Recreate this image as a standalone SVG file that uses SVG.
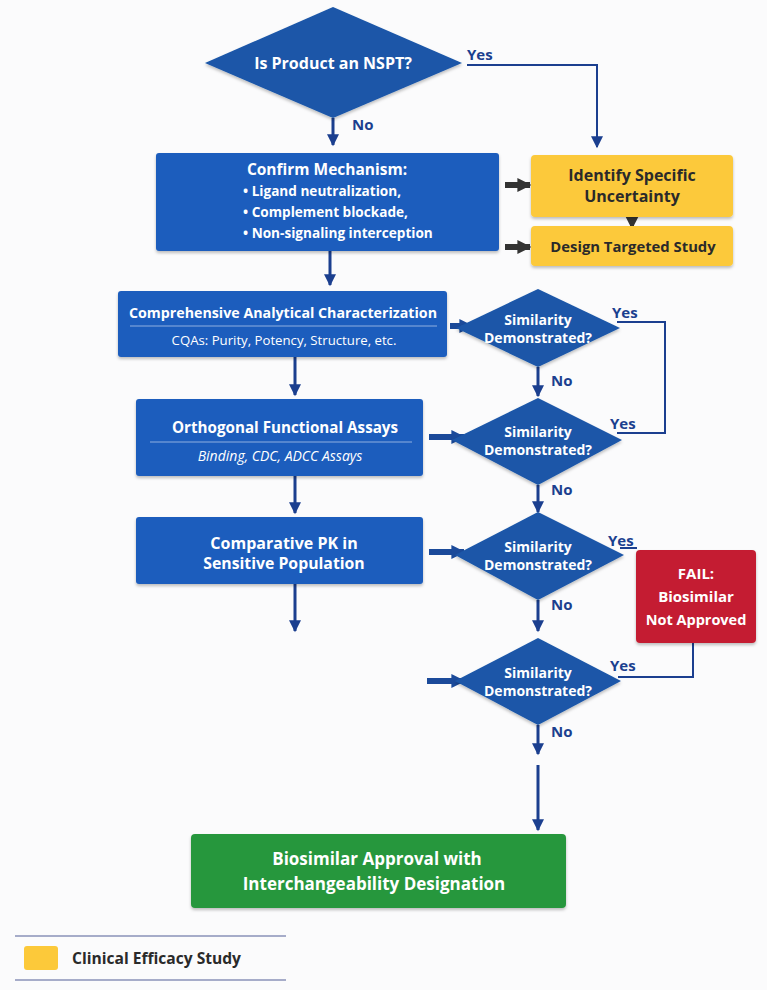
<svg xmlns="http://www.w3.org/2000/svg" width="767" height="990" viewBox="0 0 767 990">
<defs>
<style>
.bx{fill:#1f5dbd;}
.dm{fill:#1a56a8;}
.t{font-family:"Open Sans","Noto Sans",sans-serif;font-weight:700;fill:#fff;text-anchor:middle;}
.ty{font-family:"Open Sans","Noto Sans",sans-serif;font-weight:700;fill:#2a2a2a;text-anchor:middle;}
.s{font-family:"Open Sans","Noto Sans",sans-serif;font-weight:400;fill:#fff;text-anchor:middle;}
.lb{font-family:"Open Sans","Noto Sans",sans-serif;font-weight:700;fill:#1b3f8f;font-size:15px;}
.ln{fill:none;stroke:#1b3f8f;stroke-width:2;}
.lt{fill:none;stroke:#1b3f8f;stroke-width:3;}
.th{fill:none;stroke:#1b4a9a;stroke-width:6;}
.tg{fill:none;stroke:#333;stroke-width:6;}
</style>
<marker id="ah" viewBox="0 0 10 10" refX="9" refY="5" markerWidth="14" markerHeight="12" markerUnits="userSpaceOnUse" orient="auto"><path d="M0,0L10,5L0,10z" fill="#1b3f8f"/></marker>
<marker id="ahb" viewBox="0 0 10 10" refX="9" refY="5" markerWidth="14" markerHeight="18" markerUnits="userSpaceOnUse" orient="auto"><path d="M0,0L10,5L0,10z" fill="#1b4a9a"/></marker>
<marker id="ahg" viewBox="0 0 10 10" refX="9" refY="5" markerWidth="14" markerHeight="18" markerUnits="userSpaceOnUse" orient="auto"><path d="M0,0L10,5L0,10z" fill="#333"/></marker>
<filter id="sh" x="-5%" y="-10%" width="110%" height="125%"><feDropShadow dx="0" dy="2" stdDeviation="1.5" flood-color="#000" flood-opacity="0.25"/></filter>
</defs>
<rect width="767" height="990" fill="#fbfbfc"/>

<g id="connectors">
<path class="lt" d="M333,118 V145" marker-end="url(#ah)"/>
<path class="ln" d="M467,65 H597 V147" marker-end="url(#ah)"/>
<path class="tg" d="M505,185 H530" marker-end="url(#ahg)"/>
<path class="tg" d="M505,247 H530" marker-end="url(#ahg)"/>
<path class="tg" d="M632,213 V228" marker-end="url(#ahg)" style="stroke-width:4"/>
<path class="lt" d="M330,251 V285" marker-end="url(#ah)"/>
<path class="th" d="M450,326 H472" marker-end="url(#ahb)"/>
<path class="ln" d="M617,322 H665 V433 H617"/>
<path class="lt" d="M538,367 V396" marker-end="url(#ah)"/>
<path class="lt" d="M295,357 V395" marker-end="url(#ah)"/>
<path class="th" d="M429,437 H464" marker-end="url(#ahb)"/>
<path class="lt" d="M538,485 V512" marker-end="url(#ah)"/>
<path class="lt" d="M295,476 V513" marker-end="url(#ah)"/>
<path class="th" d="M429,552 H464" marker-end="url(#ahb)"/>
<path class="ln" d="M620,548 H637"/>
<path class="lt" d="M538,600 V631" marker-end="url(#ah)"/>
<path class="lt" d="M295,584 V631" marker-end="url(#ah)"/>
<path class="th" d="M427,681 H464" marker-end="url(#ahb)"/>
<path class="ln" d="M618,677 H693 V643"/>
<path class="lt" d="M538,725 V754" marker-end="url(#ah)"/>
<path class="lt" d="M538,765 V830" marker-end="url(#ah)"/>
<text class="lb" x="352" y="130">No</text>
<text class="lb" x="467" y="60">Yes</text>
<text class="lb" x="612" y="318">Yes</text>
<text class="lb" x="551" y="386">No</text>
<text class="lb" x="610" y="429">Yes</text>
<text class="lb" x="551" y="495">No</text>
<text class="lb" x="608" y="546">Yes</text>
<text class="lb" x="551" y="610">No</text>
<text class="lb" x="610" y="671">Yes</text>
<text class="lb" x="551" y="737">No</text>
</g>

<g id="q1">
<path class="dm" d="M333,7 L462,63 L333,118 L205,63 Z" filter="url(#sh)"/>
<text class="t" x="333" y="69" font-size="16">Is Product an NSPT?</text>
</g>

<g id="confirm">
<rect class="bx" x="156" y="153" width="343" height="98" rx="3" filter="url(#sh)"/>
<text class="t" x="327" y="175" font-size="15.5">Confirm Mechanism:</text>
<text class="t" x="243" y="196" font-size="13.6" style="text-anchor:start">• Ligand neutralization,</text>
<text class="t" x="243" y="217" font-size="13.6" style="text-anchor:start">• Complement blockade,</text>
<text class="t" x="243" y="238" font-size="13.6" style="text-anchor:start">• Non-signaling interception</text>
</g>

<g id="identify">
<rect x="531" y="155" width="202" height="62" rx="4" fill="#fcc93a" filter="url(#sh)"/>
<text class="ty" x="632" y="181" font-size="16">Identify Specific</text>
<text class="ty" x="632" y="202" font-size="16">Uncertainty</text>
</g>

<g id="design">
<rect x="531" y="226" width="202" height="40" rx="4" fill="#fcc93a" filter="url(#sh)"/>
<text class="ty" x="633" y="252" font-size="14.8">Design Targeted Study</text>
</g>

<g id="analytical">
<rect class="bx" x="118" y="291" width="329" height="66" rx="3" filter="url(#sh)"/>
<text class="t" x="283" y="318" font-size="14.5" textLength="308" lengthAdjust="spacingAndGlyphs">Comprehensive Analytical Characterization</text>
<line x1="130" y1="326" x2="437" y2="326" stroke="#8fb0e0" stroke-width="1"/>
<text class="s" x="284" y="345" font-size="13.2">CQAs: Purity, Potency, Structure, etc.</text>
</g>

<g id="q2">
<path class="dm" d="M538,289 L620,328 L538,367 L456,328 Z" filter="url(#sh)"/>
<text class="t" x="538" y="325" font-size="14">Similarity</text>
<text class="t" x="538" y="343" font-size="14">Demonstrated?</text>
</g>

<g id="orthogonal">
<rect class="bx" x="136" y="399" width="287" height="77" rx="3" filter="url(#sh)"/>
<text class="t" x="285" y="433" font-size="15.2">Orthogonal Functional Assays</text>
<line x1="150" y1="442" x2="412" y2="442" stroke="#8fb0e0" stroke-width="1"/>
<text class="s" x="280" y="461" font-size="14" font-style="italic">Binding, CDC, ADCC Assays</text>
</g>

<g id="q3">
<path class="dm" d="M538,398 L622,440 L538,485 L452,440 Z" filter="url(#sh)"/>
<text class="t" x="538" y="437" font-size="14">Similarity</text>
<text class="t" x="538" y="455" font-size="14">Demonstrated?</text>
</g>

<g id="pk">
<rect class="bx" x="136" y="517" width="287" height="67" rx="3" filter="url(#sh)"/>
<text class="t" x="284" y="549" font-size="16">Comparative PK in</text>
<text class="t" x="284" y="569" font-size="15.8">Sensitive Population</text>
</g>

<g id="q4">
<path class="dm" d="M538,512 L624,555 L538,600 L455,555 Z" filter="url(#sh)"/>
<text class="t" x="538" y="552" font-size="14">Similarity</text>
<text class="t" x="538" y="570" font-size="14">Demonstrated?</text>
</g>

<g id="fail">
<rect x="636" y="550" width="120" height="93" rx="4" fill="#c41f30" filter="url(#sh)"/>
<text class="t" x="696" y="579" font-size="15">FAIL:</text>
<text class="t" x="696" y="602" font-size="15">Biosimilar</text>
<text class="t" x="696" y="625" font-size="14.5">Not Approved</text>
</g>

<g id="q5">
<path class="dm" d="M538,638 L621,681 L538,725 L455,681 Z" filter="url(#sh)"/>
<text class="t" x="538" y="678" font-size="14">Similarity</text>
<text class="t" x="538" y="696" font-size="14">Demonstrated?</text>
</g>

<g id="approval">
<rect x="191" y="834" width="375" height="74" rx="4" fill="#28973c" filter="url(#sh)"/>
<text class="t" x="377" y="865" font-size="17">Biosimilar Approval with</text>
<text class="t" x="374" y="890" font-size="17">Interchangeability Designation</text>
</g>

<g id="legend">
<line x1="15" y1="936" x2="286" y2="936" stroke="#8a92b8" stroke-width="1.5"/>
<rect x="24" y="946" width="34" height="24" rx="3" fill="#fcc93a"/>
<text x="72" y="964" font-family="Open Sans, Noto Sans, sans-serif" font-weight="700" font-size="15.6" fill="#2a2a2a">Clinical Efficacy Study</text>
<line x1="15" y1="980" x2="286" y2="980" stroke="#8a92b8" stroke-width="1.5"/>
</g>
</svg>
